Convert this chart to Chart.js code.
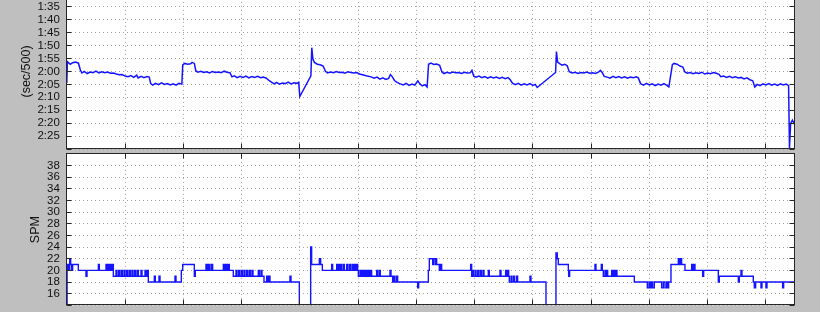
<!DOCTYPE html>
<html>
<head>
<meta charset="utf-8">
<script src="https://cdn.jsdelivr.net/npm/chart.js@4.4.1/dist/chart.umd.min.js"></script>
<style>
    html, body { margin: 0; padding: 0; background: #bfbfbf; overflow: hidden; }
    #wrap { position: relative; width: 820px; height: 312px; overflow: hidden; }
    .panel { position: absolute; left: 0; }
    #paceBox { top: -20px; }
    #spmBox { top: 140px; }
</style>
</head>
<body>
<div id="wrap">
    <div class="panel" id="paceBox"><canvas id="paceChart" width="820" height="190"></canvas></div>
    <div class="panel" id="spmBox"><canvas id="spmChart" width="820" height="180"></canvas></div>
</div>
<script>
// elapsed time in minutes, pace in seconds per 500 m
const paceMinutes = [
    0.00, 0.02, 0.12, 0.20, 0.30, 0.40, 0.47, 0.52, 0.60, 0.70, 0.80, 0.90, 1.00, 1.10, 1.20, 1.30, 1.40, 1.50, 1.60,
    1.70, 1.80, 1.90, 2.00, 2.10, 2.20, 2.30, 2.40, 2.45, 2.55, 2.65, 2.75, 2.83, 2.88, 2.95, 3.05, 3.15, 3.25, 3.35,
    3.45, 3.55, 3.65, 3.75, 3.85, 3.95, 3.98, 4.05, 4.15, 4.25, 4.30, 4.38, 4.43, 4.50, 4.60, 4.70, 4.80, 4.90, 5.00,
    5.10, 5.20, 5.30, 5.40, 5.50, 5.60, 5.67, 5.75, 5.85, 5.95, 6.05, 6.15, 6.25, 6.35, 6.45, 6.55, 6.65, 6.75, 6.85,
    6.95, 7.05, 7.12, 7.20, 7.30, 7.40, 7.50, 7.60, 7.70, 7.80, 7.90, 7.96, 8.00,
    8.38, 8.41, 8.45, 8.50, 8.60, 8.70, 8.80, 8.88, 8.95, 9.05, 9.15, 9.25, 9.35, 9.45, 9.55, 9.65, 9.75, 9.85, 9.95,
    10.05, 10.15, 10.25, 10.35, 10.45, 10.55, 10.65, 10.75, 10.85, 10.95, 11.05, 11.11, 11.17, 11.25, 11.35, 11.45,
    11.55, 11.65, 11.75, 11.85, 11.95, 12.05, 12.12, 12.20, 12.30, 12.37, 12.42, 12.50, 12.60, 12.70, 12.80, 12.88,
    12.95, 13.05, 13.15, 13.25, 13.35, 13.45, 13.55, 13.65, 13.75, 13.85, 13.91, 13.97, 14.05, 14.15, 14.25, 14.35,
    14.45, 14.55, 14.65, 14.75, 14.85, 14.95, 15.05, 15.15, 15.23, 15.30, 15.40, 15.50, 15.60, 15.70, 15.80, 15.90,
    16.00, 16.08, 16.15,
    16.78, 16.81, 16.85, 16.92, 17.00, 17.10, 17.18, 17.25, 17.35, 17.45, 17.55, 17.65, 17.75, 17.85, 17.95, 18.05,
    18.15, 18.25, 18.32, 18.38, 18.45, 18.55, 18.65, 18.75, 18.85, 18.95, 19.05, 19.15, 19.25, 19.35, 19.45, 19.55,
    19.62, 19.70, 19.80, 19.90, 20.00, 20.10, 20.20, 20.30, 20.40, 20.50, 20.60, 20.67, 20.79, 20.85, 20.95, 21.05,
    21.15, 21.22, 21.30, 21.40, 21.50, 21.60, 21.70, 21.80, 21.90, 22.00, 22.10, 22.20, 22.30, 22.39, 22.45, 22.55,
    22.65, 22.75, 22.85, 22.95, 23.05, 23.15, 23.25, 23.35, 23.45, 23.55, 23.62, 23.70, 23.80, 23.90, 24.00, 24.10,
    24.20, 24.30, 24.40, 24.50, 24.60, 24.70, 24.78, 24.81, 24.85, 24.91, 25.00
];
const paceSeconds = [
    124.5, 116.2, 117.2, 116.6, 116.4, 116.8, 119.6, 120.6, 120.0, 120.8, 120.2, 120.5, 119.9, 120.6, 120.1, 120.5, 120.2, 120.7, 120.6,
    121.0, 121.3, 121.2, 121.8, 122.0, 121.6, 122.3, 121.4, 122.5, 121.9, 122.4, 122.0, 122.2, 124.7, 125.3, 124.6, 125.1, 124.4, 125.0,
    124.7, 125.2, 124.8, 125.3, 124.6, 124.9, 117.5, 116.9, 117.2, 117.0, 116.5, 116.9, 119.8, 120.3, 119.9, 120.4, 120.1, 120.6, 120.0,
    120.4, 120.2, 120.5, 119.9, 120.3, 120.5, 122.1, 121.7, 122.4, 121.9, 122.3, 121.8, 122.5, 122.0, 122.3, 121.9, 122.4, 122.2, 122.6,
    123.6, 124.3, 124.8, 124.2, 124.9, 124.5, 124.7, 124.1, 124.8, 124.4, 124.6, 124.2, 129.7,
    121.7, 110.8, 115.2, 116.5, 117.2, 117.4, 117.9, 119.9, 120.6, 120.2, 120.5, 120.0, 120.4, 120.3, 120.7, 120.1, 120.4, 120.6, 120.4,
    121.0, 121.3, 121.6, 121.9, 122.1, 122.6, 122.2, 123.0, 122.5, 123.1, 122.7, 121.2, 122.0, 123.5, 124.3, 124.8,
    125.2, 124.6, 125.4, 124.9, 125.3, 123.6, 124.8, 125.6, 125.1, 126.0, 117.2, 116.8, 117.3, 117.1, 117.6, 120.2,
    120.8, 120.3, 120.7, 120.2, 120.5, 120.4, 120.8, 120.3, 120.6, 120.5, 119.6, 121.8, 122.2, 121.8, 122.4, 122.0,
    122.6, 122.1, 122.5, 122.2, 122.7, 122.3, 122.8, 122.4, 123.3, 124.5, 125.1, 124.6, 125.3, 124.8, 125.2, 124.7,
    125.4, 125.0, 126.2,
    120.4, 112.3, 116.4, 117.0, 117.6, 117.2, 117.8, 120.1, 120.6, 120.3, 120.8, 120.4, 120.6, 120.2, 120.7, 120.5,
    120.8, 120.3, 119.6, 120.4, 121.9, 122.2, 122.6, 121.9, 122.4, 122.0, 122.5, 122.1, 122.6, 122.2, 122.4, 122.1,
    122.5, 124.7, 125.3, 124.6, 125.2, 124.8, 125.5, 124.9, 125.3, 124.7, 125.4, 126.0, 117.4, 116.9, 117.2, 117.9,
    118.3, 120.2, 120.7, 120.4, 120.9, 120.5, 120.8, 120.3, 121.0, 120.6, 120.9, 120.4, 120.7, 121.1, 122.0, 121.8,
    122.3, 121.9, 122.4, 122.1, 122.5, 122.3, 122.9, 122.5, 123.2, 123.6, 126.0, 125.0, 125.5, 124.8, 125.2, 124.7,
    125.3, 124.9, 125.4, 124.8, 125.2, 124.9, 125.5, 149.7, 140.1, 138.8, 140.8
];

// stroke rate: each value holds from its time until the next one
const spmMinutes = [
    0.000, 0.010, 0.030, 0.064, 0.099, 0.133, 0.167, 0.201, 0.396, 0.659, 0.694, 1.083, 1.117, 1.346, 1.380, 1.403,
    1.449, 1.483, 1.529, 1.552, 1.598, 1.689, 1.723, 1.781, 1.815, 1.872, 1.906, 1.964, 1.998, 2.055, 2.090, 2.147,
    2.181, 2.238, 2.273, 2.330, 2.364, 2.421, 2.456, 2.547, 2.582, 2.685, 2.719, 2.765, 2.799, 3.005, 3.039, 3.165,
    3.200, 3.714, 3.749, 3.932, 3.978, 4.378, 4.412, 4.779, 4.824, 4.870, 4.916, 4.973, 5.008, 5.374, 5.420, 5.465,
    5.511, 5.545, 5.580, 5.717, 5.809, 5.843, 5.900, 5.934, 5.992, 6.026, 6.083, 6.117, 6.175, 6.209, 6.266, 6.301,
    6.358, 6.392, 6.575, 6.610, 6.667, 6.701, 6.770, 6.861, 6.896, 6.941, 6.976, 7.662, 7.697, 7.983,
    8.372, 8.406, 8.670, 8.715, 8.773, 9.093, 9.127, 9.265, 9.299, 9.333, 9.368, 9.402, 9.436, 9.494, 9.528, 9.608,
    9.642, 9.700, 9.734, 9.791, 9.825, 9.871, 9.906, 9.951, 9.986, 10.009, 10.066, 10.100, 10.134, 10.169, 10.203,
    10.237, 10.272, 10.306, 10.352, 10.386, 10.432, 10.466, 10.638, 10.672, 10.729, 10.764, 11.096, 11.130, 11.187,
    11.233, 11.267, 11.325, 11.359, 12.045, 12.080, 12.412, 12.446, 12.561, 12.583, 12.640, 12.663, 12.698, 12.789,
    12.824, 12.869, 13.865, 13.899, 13.922, 13.956, 14.014, 14.048, 14.105, 14.140, 14.197, 14.231, 14.288, 14.323,
    14.471, 14.506, 14.872, 14.906, 15.066, 15.101, 15.135, 15.169, 15.192, 15.250, 15.284, 15.341, 15.375, 15.444,
    15.478, 15.902, 15.936, 16.451,
    16.794, 16.840, 16.874, 17.218, 17.229, 17.263, 18.133, 18.167, 18.350, 18.385, 18.419, 18.476, 18.511, 18.534,
    18.568, 18.705, 18.740, 18.785, 18.820, 18.854, 18.888, 19.483, 19.930, 19.987, 20.021, 20.067, 20.113, 20.170,
    20.422, 20.479, 20.536, 20.593, 20.616, 20.662, 20.742, 20.994, 21.028, 21.074, 21.108, 21.223, 21.452, 21.486,
    21.532, 21.566, 21.829, 21.864, 22.367, 22.401, 23.054, 23.088, 23.145, 23.179, 23.568, 23.603, 23.649, 23.832,
    23.866, 24.003, 24.038, 24.575, 24.610, 25.000
];
const spmValues = [
    0, 20, 21, 20, 22, 21, 20, 21, 20, 19, 20, 21, 20, 21, 20, 21,
    20, 21, 20, 21, 19, 20, 19, 20, 19, 20, 19, 20, 19, 20, 19, 20,
    19, 20, 19, 20, 19, 20, 19, 20, 19, 20, 19, 20, 18, 19, 18, 19,
    18, 19, 18, 20, 21, 19, 20, 21, 20, 21, 20, 21, 20, 21, 20, 21,
    20, 21, 20, 19, 20, 19, 20, 19, 20, 19, 20, 19, 20, 19, 20, 19,
    20, 19, 20, 19, 20, 19, 18, 19, 18, 19, 18, 19, 18, 0,
    24, 21, 22, 21, 20, 21, 20, 21, 20, 21, 20, 21, 20, 21, 20, 21,
    20, 21, 20, 21, 20, 21, 20, 21, 20, 19, 20, 19, 20, 19, 20,
    19, 20, 19, 20, 19, 20, 19, 20, 19, 20, 19, 20, 19, 18,
    19, 18, 19, 18, 17, 18, 20, 22, 21, 22, 21, 22, 21, 20,
    21, 20, 21, 19, 20, 19, 20, 19, 20, 19, 20, 19, 20, 19,
    20, 19, 20, 19, 20, 19, 20, 19, 18, 19, 18, 19, 18, 19,
    18, 19, 18, 0,
    23, 22, 21, 20, 19, 20, 21, 20, 21, 20, 19, 20, 19, 20,
    19, 20, 19, 20, 19, 20, 19, 18, 17, 18, 17, 18, 17, 18,
    17, 18, 17, 18, 17, 18, 21, 22, 21, 22, 21, 20, 21, 20,
    21, 20, 19, 20, 18, 19, 18, 19, 20, 19, 18, 17, 18, 17,
    18, 17, 18, 17, 18, 18
];

const timeRange = [0, 25];
const paceRange = [90, 150];
const spmRange = [14, 40];

function paceLabel(v) {
    const m = Math.floor(v / 60);
    const s = Math.round(v - m * 60);
    return m + ':' + (s < 10 ? '0' : '') + s;
}

function alignPx(p) {
    return Math.round(p - 0.5) + 0.5;
}

// white plot area, black box and inward tick marks
const boxPlugin = {
    id: 'boxPlugin',
    beforeDraw(chart) {
        const a = chart.chartArea;
        const ctx = chart.ctx;
        ctx.save();
        ctx.fillStyle = '#ffffff';
        ctx.fillRect(Math.floor(a.left), a.top, a.right - Math.floor(a.left), a.bottom - a.top);
        ctx.restore();
    },
    afterDraw(chart) {
        const a = chart.chartArea;
        const ctx = chart.ctx;
        const l = Math.floor(a.left) + 0.5, t = Math.floor(a.top) + 0.5;
        const r = Math.round(a.right) - 0.5, b = Math.round(a.bottom) - 0.5;
        const xs = chart.scales.x, ys = chart.scales.y;
        ctx.save();
        ctx.strokeStyle = '#262626';
        ctx.lineWidth = 1;
        ctx.strokeRect(l, t, r - l, b - t);
        ctx.beginPath();
        xs.ticks.forEach(tk => {
            const px = alignPx(xs.getPixelForValue(tk.value));
            ctx.moveTo(px, b); ctx.lineTo(px, b - 5);
            ctx.moveTo(px, t); ctx.lineTo(px, t + 5);
        });
        ys.ticks.forEach(tk => {
            const py = alignPx(ys.getPixelForValue(tk.value));
            ctx.moveTo(l, py); ctx.lineTo(l + 5, py);
            ctx.moveTo(r, py); ctx.lineTo(r - 5, py);
        });
        ctx.stroke();
        ctx.restore();
    }
};

function xAxis() {
    return {
        type: 'linear',
        min: timeRange[0],
        max: timeRange[1],
        ticks: { display: false, stepSize: 2, includeBounds: false },
        grid: { color: '#a2a2a2', lineWidth: 1, drawTicks: false },
        border: { display: false, dash: [1, 3] },
        afterFit: function(scale) { scale.height = 0; }
    };
}

function yAxis(range, step, title, titlePad, fmt, reverse) {
    return {
        min: range[0],
        max: range[1],
        reverse: reverse,
        ticks: {
            stepSize: step,
            autoSkip: false,
            padding: 7,
            color: '#111111',
            font: { family: 'Liberation Sans, Arial, sans-serif', size: 11.5 },
            callback: function(value) {
                if (value <= range[0] || value >= range[1]) return '';
                return fmt(value);
            }
        },
        grid: { color: '#a2a2a2', lineWidth: 1, drawTicks: false },
        border: { display: false, dash: [1, 3] },
        title: {
            display: true,
            text: title,
            color: '#111111',
            font: { family: 'Liberation Sans, Arial, sans-serif', size: 12.5 },
            padding: { top: titlePad, bottom: 0 }
        },
        afterFit: function(scale) { scale.width = 66.8; }
    };
}

const paceCtx = document.getElementById('paceChart');
new Chart(paceCtx, {
    type: 'line',
    data: {
        datasets: [{
            data: paceMinutes.map((t, i) => ({ x: t, y: paceSeconds[i] })),
            borderColor: '#1414ff',
            borderWidth: 1.5,
            pointRadius: 0,
            tension: 0
        }]
    },
    options: {
        responsive: false,
        animation: false,
        devicePixelRatio: 1,
        layout: { padding: { top: 13, right: 25, bottom: 21, left: 0 } },
        plugins: { legend: { display: false }, tooltip: { enabled: false } },
        scales: {
            x: xAxis(),
            y: yAxis(paceRange, 5, '(sec/500)', 19, paceLabel, true)
        }
    },
    plugins: [boxPlugin]
});

const spmCtx = document.getElementById('spmChart');
new Chart(spmCtx, {
    type: 'line',
    data: {
        datasets: [{
            data: spmMinutes.map((t, i) => ({ x: t, y: spmValues[i] })),
            borderColor: '#1414ff',
            borderWidth: 1.4,
            pointRadius: 0,
            stepped: true
        }]
    },
    options: {
        responsive: false,
        animation: false,
        devicePixelRatio: 1,
        layout: { padding: { top: 9, right: 25, bottom: 14.7, left: 0 } },
        plugins: { legend: { display: false }, tooltip: { enabled: false } },
        scales: {
            x: xAxis(),
            y: yAxis(spmRange, 2, 'SPM', 28, v => String(v), false)
        }
    },
    plugins: [boxPlugin]
});
</script>
</body>
</html>
